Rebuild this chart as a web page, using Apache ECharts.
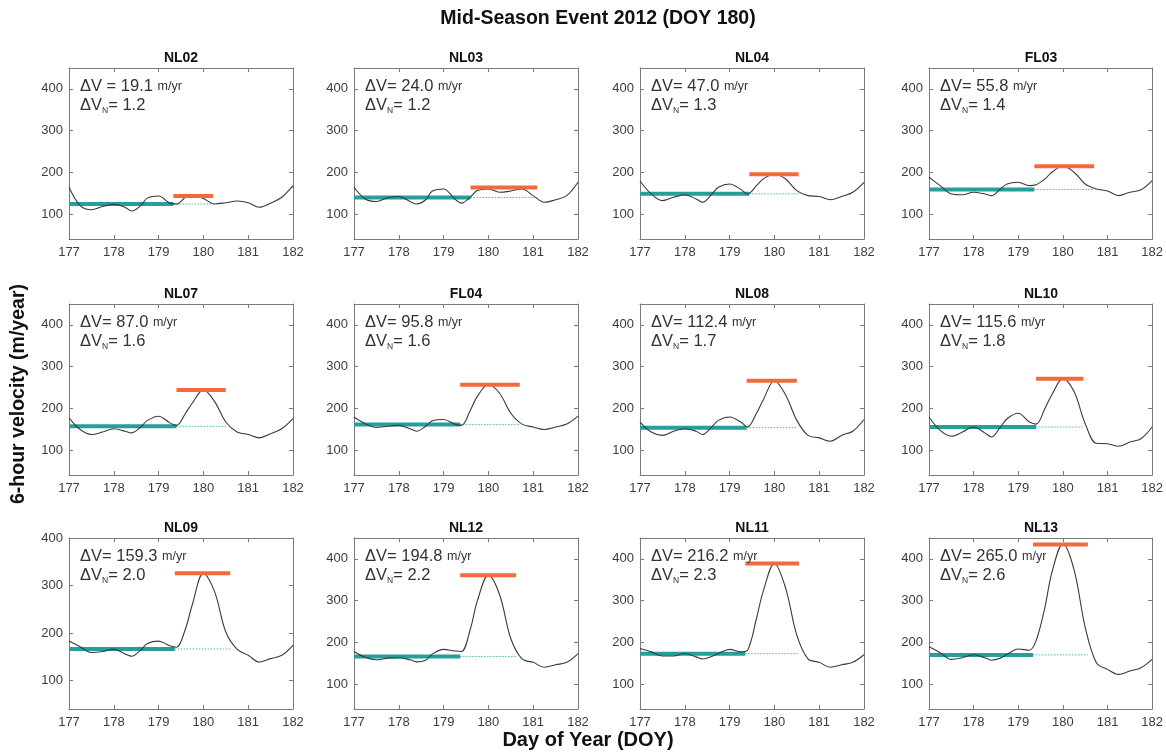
<!DOCTYPE html>
<html>
<head>
<meta charset="utf-8">
<script src="https://cdn.jsdelivr.net/npm/echarts@6/dist/echarts.min.js"></script>
<style>
  html, body { margin: 0; padding: 0; background: #fff; }
  #chart { width: 1166px; height: 753px; }
</style>
</head>
<body>
<div id="chart"></div>
<script>
// --- données --- //
const doy = [177, 177.25, 177.5, 177.75, 178, 178.25, 178.4, 178.6, 178.75, 179, 179.25, 179.4,
  179.6, 179.75, 180, 180.25, 180.5, 180.75, 181, 181.25, 181.5, 181.75, 182];

const stations = ['NL02', 'NL03', 'NL04', 'FL03', 'NL07', 'FL04', 'NL08', 'NL10', 'NL09', 'NL12', 'NL11', 'NL13'];
const deltaV = ['19.1', '24.0', '47.0', '55.8', '87.0', '95.8', '112.4', '115.6', '159.3', '194.8', '216.2', '265.0'];
const deltaVN = ['1.2', '1.2', '1.3', '1.4', '1.6', '1.6', '1.7', '1.8', '2.0', '2.2', '2.3', '2.6'];
const baseline = [124, 139.5, 148.3, 158.7, 156.8, 160.8, 153.5, 155, 166.4, 166, 172.6, 169.7];
const eventStart = [179.33, 179.6, 179.44, 179.36, 179.4, 179.37, 179.38, 179.4, 179.36, 179.37, 179.35, 179.33];
const eventEnd = [180.22, 181.09, 180.54, 180.7, 180.5, 180.7, 180.5, 180.46, 180.6, 180.62, 180.55, 180.56];
const yMax = [450, 450, 450, 450, 450, 450, 450, 450, 400, 450, 450, 450];
const yTicks = [100, 200, 300, 400];

const velocity = [
  [164, 120, 110, 118, 123, 116, 107, 120, 138, 143, 126, 124, 140, 144, 137, 124, 127, 131, 127, 116, 126, 140, 168],
  [164, 136, 130, 139, 142, 130, 124, 134, 155, 160, 136, 126, 141, 156, 160, 152, 155, 160, 144, 128, 134, 144, 176],
  [179, 148, 132, 140, 146, 136, 128, 147, 164, 172, 159, 148, 168, 184, 196, 184, 156, 144, 142, 134, 142, 152, 176],
  [188, 168, 148, 146, 152, 148, 144, 160, 172, 176, 168, 170, 184, 200, 215, 200, 172, 160, 155, 144, 152, 158, 180],
  [177, 149, 137, 143, 151, 145, 141, 155, 171, 181, 165, 159, 188, 212, 244, 216, 167, 143, 137, 129, 139, 151, 175],
  [179, 163, 154, 157, 159, 151, 145, 157, 170, 173, 162, 159, 196, 228, 257, 236, 188, 162, 155, 149, 155, 162, 181],
  [167, 143, 135, 145, 151, 145, 137, 155, 171, 179, 167, 155, 188, 220, 266, 232, 171, 135, 129, 121, 135, 145, 173],
  [179, 147, 133, 143, 155, 141, 131, 155, 175, 188, 167, 162, 200, 232, 271, 240, 163, 116, 115, 109, 119, 127, 155],
  [183, 171, 159, 161, 166, 156, 151, 164, 178, 183, 173, 170, 209, 259, 326, 287, 202, 166, 153, 139, 146, 153, 174],
  [178, 164, 158, 162, 163, 158, 153, 157, 172, 183, 179, 178, 233, 298, 361, 314, 209, 160, 152, 140, 146, 152, 173],
  [185, 177, 167, 167, 173, 165, 160, 166, 173, 183, 177, 181, 257, 322, 389, 330, 217, 160, 152, 140, 146, 152, 170],
  [189, 175, 159, 163, 170, 163, 157, 162, 171, 184, 181, 204, 285, 366, 436, 374, 236, 151, 135, 123, 131, 139, 159]
];

// --- mise en page des 12 panneaux --- //
const colLeft = [69, 354, 640, 929];
const rowTop = [68, 304, 538];
const W = 224, H = 171;
const FONT = '"Liberation Sans", Arial, Helvetica, sans-serif';
const boxColor = '#7a7a7a';
const labelColor = '#3c3c3c';
const teal = '#23a09b';
const orange = '#f26a3b';

const grids = [], xAxes = [], yAxes = [], series = [], texts = [];

stations.forEach((name, i) => {
  const r = Math.floor(i / 4), c = i % 4;
  const left = colLeft[c], top = rowTop[r];
  grids.push({ left: left, top: top, width: W, height: H });

  const xBase = {
    gridIndex: i, type: 'value', min: 177, max: 182, interval: 1,
    axisLine: { show: true, onZero: false, lineStyle: { color: boxColor, width: 1 } },
    axisTick: { show: true, inside: true, length: 4, lineStyle: { color: boxColor } },
    splitLine: { show: false }
  };
  xAxes.push(Object.assign({}, xBase, {
    position: 'bottom',
    axisLabel: { fontSize: 13, color: labelColor, margin: 7, fontFamily: FONT }
  }));
  xAxes.push(Object.assign({}, xBase, { position: 'top', axisLabel: { show: false } }));

  const yBase = {
    gridIndex: i, type: 'value', min: 40, max: yMax[i],
    axisLine: { show: true, onZero: false, lineStyle: { color: boxColor, width: 1 } },
    axisTick: { show: true, inside: true, length: 4, customValues: yTicks, lineStyle: { color: boxColor } },
    splitLine: { show: false }
  };
  yAxes.push(Object.assign({}, yBase, {
    position: 'left',
    axisLabel: { fontSize: 13, color: labelColor, margin: 6, fontFamily: FONT, customValues: yTicks }
  }));
  yAxes.push(Object.assign({}, yBase, { position: 'right', axisLabel: { show: false } }));

  const b = baseline[i];
  const peak = b + parseFloat(deltaV[i]);
  const common = { type: 'line', xAxisIndex: 2 * i, yAxisIndex: 2 * i, showSymbol: false, silent: true, animation: false };

  series.push(Object.assign({}, common, {
    data: [[eventStart[i], b], [eventEnd[i], b]],
    lineStyle: { color: '#4fb8b4', width: 1, type: [1.5, 1.5] }, z: 1
  }));
  series.push(Object.assign({}, common, {
    data: [[177, b], [eventStart[i], b]],
    lineStyle: { color: teal, width: 4 }, z: 2
  }));
  series.push(Object.assign({}, common, {
    data: doy.map((d, k) => [d, velocity[i][k]]),
    smooth: 0.35,
    lineStyle: { color: '#3a3a3a', width: 1.1 }, z: 3
  }));
  series.push(Object.assign({}, common, {
    data: [[eventStart[i], peak], [eventEnd[i], peak]],
    lineStyle: { color: orange, width: 4 }, z: 4
  }));

  // titre du panneau
  texts.push({
    type: 'text', x: left + W / 2, y: top - 10,
    style: { text: name, align: 'center', verticalAlign: 'middle', textAlign: 'center', textVerticalAlign: 'middle',
      fontSize: 14, fontWeight: 'bold', fontFamily: FONT, fill: '#111' }
  });
  // annotation ΔV
  const sp = (i === 0) ? ' ' : '';
  texts.push({
    type: 'text', x: left + 11, y: top + 9, z: 10,
    style: {
      text: '{a|ΔV' + sp + '= ' + deltaV[i] + ' }{u|m/yr}\n{a|ΔV}{n|N}{a|= ' + deltaVN[i] + '}',
      align: 'left', verticalAlign: 'top', textAlign: 'left', textVerticalAlign: 'top',
      fontFamily: FONT,
      rich: {
        a: { fontSize: 16.5, fill: '#333', fontFamily: FONT, lineHeight: 19 },
        u: { fontSize: 12.5, fill: '#333', fontFamily: FONT, lineHeight: 19 },
        n: { fontSize: 8.5, fill: '#333', fontFamily: FONT, lineHeight: 5, verticalAlign: 'bottom' }
      }
    }
  });
});

texts.push({
  type: 'text', x: 598, y: 19,
  style: { text: 'Mid-Season Event 2012 (DOY 180)', align: 'center', verticalAlign: 'middle',
    textAlign: 'center', textVerticalAlign: 'middle',
    fontSize: 19.5, fontWeight: 'bold', fontFamily: FONT, fill: '#111' }
});
texts.push({
  type: 'text', x: 588, y: 740,
  style: { text: 'Day of Year (DOY)', align: 'center', verticalAlign: 'middle',
    textAlign: 'center', textVerticalAlign: 'middle',
    fontSize: 20, fontWeight: 'bold', fontFamily: FONT, fill: '#111' }
});
texts.push({
  type: 'text', x: 19, y: 394, rotation: Math.PI / 2,
  style: { text: '6-hour velocity (m/year)', align: 'center', verticalAlign: 'middle',
    textAlign: 'center', textVerticalAlign: 'middle',
    fontSize: 19.5, fontWeight: 'bold', fontFamily: FONT, fill: '#111' }
});

const echartsInstance = echarts.init(document.getElementById('chart'), null, { renderer: 'canvas' });
echartsInstance.setOption({
  animation: false,
  backgroundColor: '#fff',
  grid: grids,
  xAxis: xAxes,
  yAxis: yAxes,
  series: series,
  graphic: texts
});
</script>
</body>
</html>
